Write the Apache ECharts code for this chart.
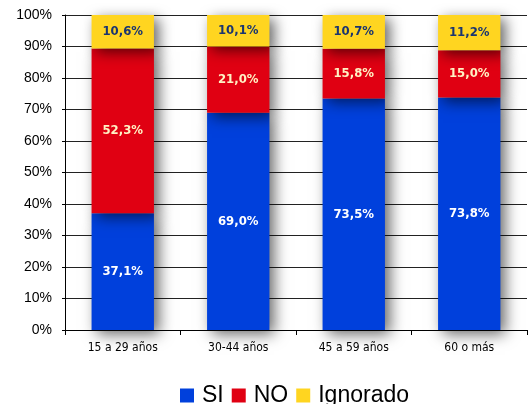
<!DOCTYPE html>
<html>
<head>
<meta charset="utf-8">
<script src="https://cdn.jsdelivr.net/npm/echarts@6/dist/echarts.min.js"></script>
<style>
  html, body { margin: 0; padding: 0; background: #fff; }
  #chart { width: 529px; height: 404px; }
</style>
</head>
<body>
<div id="chart"></div>
<script>
const categories = ['15 a 29 años', '30-44 años', '45 a 59 años', '60 o más']
const siValues = [37.1, 69.0, 73.5, 73.8]
const noValues = [52.3, 21.0, 15.8, 15.0]
const ignoradoValues = [10.6, 10.1, 10.7, 11.2]
const yTicks = [0, 10, 20, 30, 40, 50, 60, 70, 80, 90, 100]

const narrow = '"DejaVu Sans Condensed", "Liberation Sans Narrow", "Liberation Sans", sans-serif'
const fmt = (p) => p.value.toFixed(1).replace('.', ',') + '%'

function barSeries (name, data, color, labelColor) {
  return {
    name: name,
    type: 'bar',
    stack: 'total',
    data: data,
    barWidth: '54%',
    itemStyle: {
      color: color,
      shadowColor: 'rgba(0,0,0,0.6)',
      shadowBlur: 14,
      shadowOffsetX: 5,
      shadowOffsetY: 4
    },
    label: {
      show: true,
      position: 'inside',
      formatter: fmt,
      color: labelColor,
      fontFamily: narrow,
      fontWeight: 'bold',
      fontSize: 13
    }
  }
}

const chart = echarts.init(document.getElementById('chart'))
chart.setOption({
  animation: false,
  grid: { left: 65, right: 2, top: 15, bottom: 74 },
  legend: {
    top: 379,
    left: 175,
    itemWidth: 14,
    itemHeight: 14,
    itemGap: 8,
    icon: 'rect',
    textStyle: {
      fontFamily: '"Liberation Sans", Arial, sans-serif',
      fontSize: 23,
      color: '#000',
      padding: [0, 0, 0, 3]
    },
    data: ['SI', 'NO', 'Ignorado']
  },
  xAxis: {
    type: 'category',
    data: categories,
    axisLine: { lineStyle: { color: '#000', width: 1 } },
    axisTick: { show: true, length: 5, lineStyle: { color: '#000' } },
    axisLabel: {
      margin: 12,
      fontFamily: narrow,
      fontSize: 12,
      color: '#000'
    }
  },
  yAxis: {
    type: 'value',
    min: 0,
    max: 100,
    interval: 10,
    axisLine: { show: true, lineStyle: { color: '#000', width: 1 } },
    axisTick: { show: true, length: 3, lineStyle: { color: '#000' } },
    axisLabel: {
      margin: 13,
      fontFamily: '"Liberation Sans", Arial, sans-serif',
      fontSize: 14,
      color: '#000',
      formatter: (v) => yTicks.includes(v) ? v + '%' : ''
    },
    splitLine: { show: true, lineStyle: { color: '#222', width: 1 } }
  },
  series: [
    barSeries('SI', siValues, '#0040dc', '#ffffff'),
    barSeries('NO', noValues, '#e00012', '#fff2c4'),
    barSeries('Ignorado', ignoradoValues, '#ffd520', '#1a3570')
  ]
})
</script>
</body>
</html>
